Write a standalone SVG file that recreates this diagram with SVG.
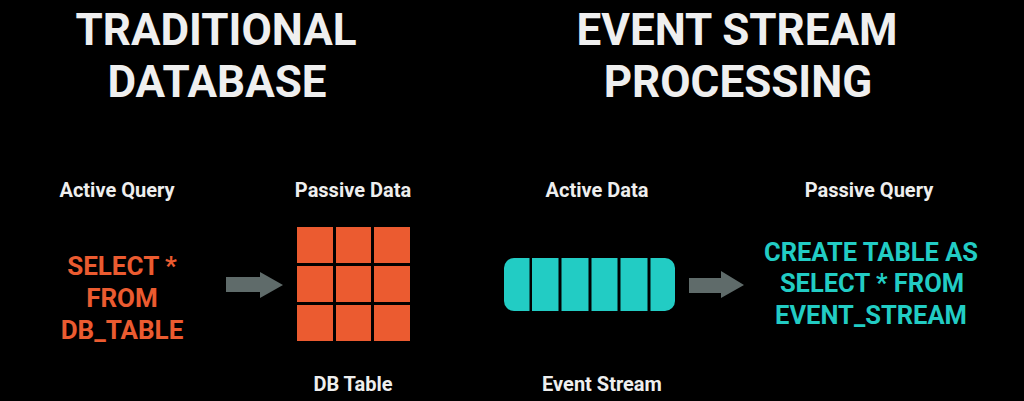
<svg xmlns="http://www.w3.org/2000/svg" width="1024" height="401" viewBox="0 0 1024 401">
<style>
.title{font-family:Roboto,"Liberation Sans",sans-serif;font-weight:700;font-size:44px;fill:#EFEFEF;text-anchor:middle}
.lab{font-family:Roboto,"Liberation Sans",sans-serif;font-weight:700;font-size:20px;fill:#EEEEEE;text-anchor:middle}
.sqlo{font-family:Roboto,"Liberation Sans",sans-serif;font-weight:700;font-size:26px;fill:#EB5B30;text-anchor:middle}
.sqlt{font-family:Roboto,"Liberation Sans",sans-serif;font-weight:700;font-size:25.5px;fill:#22CCC4;text-anchor:middle}
.cell{fill:#EB5B30}
.seg{fill:#22CCC4}
.arr{fill:#5F6B6A}
</style>
<rect width="1024" height="401" fill="#000"/>
<g id="title-left"><text class="title" x="216" y="45">TRADITIONAL</text><text class="title" x="217" y="97">DATABASE</text></g>
<g id="title-right"><text class="title" x="737" y="45">EVENT STREAM</text><text class="title" x="738" y="97">PROCESSING</text></g>
<g id="active-query"><text class="lab" x="117" y="197">Active Query</text>
<text class="sqlo" x="122" y="275">SELECT *</text><text class="sqlo" x="122" y="307">FROM</text><text class="sqlo" x="122" y="339">DB_TABLE</text></g>
<g id="db-table"><text class="lab" x="353" y="197">Passive Data</text>
<rect class="cell" x="297" y="227" width="36" height="36"/><rect class="cell" x="336" y="227" width="35" height="36"/><rect class="cell" x="374" y="227" width="36" height="36"/>
<rect class="cell" x="297" y="266" width="36" height="36"/><rect class="cell" x="336" y="266" width="35" height="36"/><rect class="cell" x="374" y="266" width="36" height="36"/>
<rect class="cell" x="297" y="305" width="36" height="36"/><rect class="cell" x="336" y="305" width="35" height="36"/><rect class="cell" x="374" y="305" width="36" height="36"/>
<text class="lab" x="353" y="391">DB Table</text></g>
<g id="event-stream"><text class="lab" x="597" y="197">Active Data</text>
<path class="seg" d="M514,258 H529.5 V311 H514 A10,10 0 0 1 504,301 V268 A10,10 0 0 1 514,258 Z"/>
<rect class="seg" x="532" y="258" width="26.5" height="53"/>
<rect class="seg" x="561.5" y="258" width="27" height="53"/>
<rect class="seg" x="591.5" y="258" width="26" height="53"/>
<rect class="seg" x="620.5" y="258" width="27" height="53"/>
<path class="seg" d="M650.5,258 H665 A10,10 0 0 1 675,268 V301 A10,10 0 0 1 665,311 H650.5 Z"/>
<text class="lab" x="602" y="391">Event Stream</text></g>
<g id="passive-query"><text class="lab" x="869" y="197">Passive Query</text>
<text class="sqlt" x="871" y="261">CREATE TABLE AS</text><text class="sqlt" x="872" y="292">SELECT * FROM</text><text class="sqlt" x="871" y="324">EVENT_STREAM</text></g>
<g id="connectors">
<polygon class="arr" points="226,277 260,277 260,272 283,285 260,298 260,292 226,292"/>
<polygon class="arr" points="689,278 721,278 721,271 744,285 721,298 721,293 689,293"/>
</g>
</svg>
